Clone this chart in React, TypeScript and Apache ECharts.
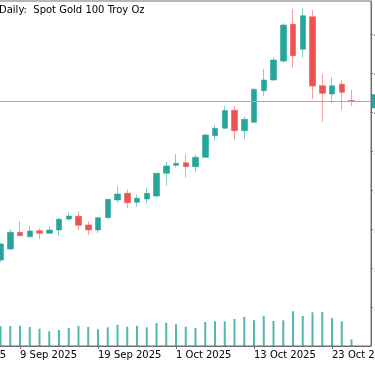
import React, { useEffect, useRef } from 'react';
import * as echarts from 'echarts';

// Category labels (trading days). The first six fall left of the visible area.
const dates = [
  '28 Aug 2025', '29 Aug 2025', '1 Sep 2025', '2 Sep 2025', '3 Sep 2025', '4 Sep 2025',
  '5 Sep 2025', '8 Sep 2025', '9 Sep 2025', '10 Sep 2025', '11 Sep 2025', '12 Sep 2025',
  '15 Sep 2025', '16 Sep 2025', '17 Sep 2025', '18 Sep 2025', '19 Sep 2025', '22 Sep 2025',
  '23 Sep 2025', '24 Sep 2025', '25 Sep 2025', '26 Sep 2025', '29 Sep 2025', '30 Sep 2025',
  '1 Oct 2025', '2 Oct 2025', '3 Oct 2025', '6 Oct 2025', '7 Oct 2025', '8 Oct 2025',
  '9 Oct 2025', '10 Oct 2025', '13 Oct 2025', '14 Oct 2025', '15 Oct 2025', '16 Oct 2025',
  '17 Oct 2025', '20 Oct 2025', '21 Oct 2025', '22 Oct 2025', '23 Oct 2025', '24 Oct 2025',
  '27 Oct 2025', '28 Oct 2025', '29 Oct 2025',
];
// index in `dates` of the first day that has data (5 Sep 2025)
const firstDataIndex = 6;

const opens = [
  3547.7, 3584.3, 3640.0, 3625.3, 3645.3, 3636.7, 3647.7, 3684.3, 3693.3, 3664.3, 3647.7, 3688.7,
  3747.7, 3770.0, 3740.0, 3751.0, 3761.0, 3836.7,
  3863.3, 3872.0, 3858.7, 3890.0, 3962.0, 3986.7, 4046.7, 3978.7, 4006.7, 4112.0, 4147.7, 4211.0,
  4333.3, 4250.0, 4358.7, 4128.7, 4101.0, 4133.3, 4079.3,
];
const closes = [
  3601.0, 3640.0, 3628.7, 3644.3, 3636.7, 3647.7, 3683.3, 3694.3, 3663.3, 3647.7, 3688.7, 3750.0,
  3767.7, 3738.7, 3753.3, 3770.0, 3836.7, 3861.0,
  3870.0, 3858.7, 3890.0, 3964.3, 3986.7, 4046.0, 3978.7, 4016.7, 4116.7, 4147.7, 4214.3, 4331.0,
  4228.7, 4362.0, 4127.7, 4103.3, 4128.7, 4106.7, 4076.7,
];
const highs = [
  3604.3, 3650.0, 3677.7, 3661.0, 3653.3, 3661.0, 3688.7, 3707.7, 3711.0, 3676.7, 3692.0, 3751.0,
  3794.3, 3783.3, 3765.3, 3787.7, 3838.7, 3875.3,
  3901.0, 3901.0, 3897.7, 3970.0, 3997.7, 4061.0, 4061.0, 4025.3, 4120.0, 4184.3, 4222.0, 4336.7,
  4384.3, 4386.7, 4381.0, 4167.7, 4156.7, 4147.7, 4114.3,
];
const lows = [
  3541.0, 3581.0, 3627.7, 3623.3, 3616.7, 3634.3, 3628.7, 3678.7, 3647.7, 3631.0, 3636.7, 3684.3,
  3738.7, 3720.0, 3725.3, 3736.7, 3756.7, 3795.3,
  3856.7, 3822.0, 3840.0, 3887.7, 3945.3, 3984.3, 3947.7, 3950.0, 4005.3, 4094.3, 4144.3, 4205.3,
  4188.7, 4222.0, 4083.3, 4007.7, 4070.0, 4047.7, 4061.0,
];
const volumes = [
  100000, 100000, 101500, 95000, 86500, 73500, 80000, 90000, 100000, 95000, 83500, 93500,
  106500, 96500, 101500, 93500, 115000, 116500,
  108500, 96500, 90000, 120000, 123500, 123500, 135000, 145000, 128500, 150000, 125000, 128500,
  173500, 150000, 168500, 170000, 138500, 123500, 33500,
];

// price scale (right axis)
const priceMin = 3261;
const priceMax = 4411;
const priceStep = 130;
const volumeMax = 1725000;

const titleText = 'Daily:  Spot Gold 100 Troy Oz';

const UP = '#26a69a';
const DOWN = '#ef5350';
const GREY = '#6e6e6e';
const FONT = 'DejaVu Sans';

export default function App() {
  const ref = useRef<HTMLDivElement>(null);

  useEffect(() => {
    if (!ref.current) return;
    const chart = echarts.init(ref.current, null, { renderer: 'svg' });

    const candleData = dates.map((_, i) => {
      const k = i - firstDataIndex;
      return k >= 0 && k < opens.length
        ? [opens[k], closes[k], lows[k], highs[k]]
        : ['-', '-', '-', '-'];
    });
    const volumeData = dates.map((_, i) => {
      const k = i - firstDataIndex;
      return k >= 0 && k < volumes.length ? volumes[k] : '-';
    });
    const lastClose = closes[closes.length - 1];

    chart.setOption({
      animation: false,
      textStyle: { fontFamily: FONT },
      grid: {
        left: -58,
        right: 4,
        top: 1,
        bottom: 20,
        show: true,
        borderColor: GREY,
        borderWidth: 1,
        containLabel: false,
        outerBoundsMode: 'none',
      },
      xAxis: {
        type: 'category',
        data: dates,
        boundaryGap: false,
        axisLine: { show: true, lineStyle: { color: GREY, width: 1 } },
        axisTick: { show: true, interval: 7, length: 3, lineStyle: { color: GREY } },
        axisLabel: {
          interval: 7,
          align: 'left',
          margin: 3,
          fontSize: 10,
          color: '#000',
          fontFamily: FONT,
        },
        splitLine: { show: false },
      },
      yAxis: [
        {
          type: 'value',
          position: 'right',
          min: priceMin,
          max: priceMax,
          interval: priceStep,
          axisLine: { show: true, lineStyle: { color: GREY, width: 1 } },
          axisTick: { show: true, length: 2, lineStyle: { color: GREY } },
          axisLabel: {
            margin: 3,
            fontSize: 10,
            color: '#000',
            fontFamily: FONT,
            showMaxLabel: false,
            showMinLabel: false,
            formatter: (v: number) => v.toFixed(2),
          },
          splitLine: { show: false },
        },
        {
          type: 'value',
          min: 0,
          max: volumeMax,
          show: false,
          splitLine: { show: false },
        },
      ],
      series: [
        {
          type: 'bar',
          yAxisIndex: 1,
          data: volumeData,
          barWidth: 2,
          silent: true,
          itemStyle: { color: 'rgba(38,166,154,0.8)' },
        },
        {
          type: 'candlestick',
          data: candleData,
          barWidth: 6,
          itemStyle: {
            color: UP,
            color0: DOWN,
            borderColor: 'rgba(38,166,154,0.55)',
            borderColor0: 'rgba(239,83,80,0.55)',
            borderWidth: 1,
          },
          markLine: {
            silent: true,
            symbol: ['none', 'none'],
            data: [{ yAxis: lastClose }],
            itemStyle: { color: '#74c2b9' },
            lineStyle: { color: '#74c2b9', width: 1, type: 'solid', opacity: 1 },
            label: {
              show: true,
              position: 'end',
              distance: 1,
              backgroundColor: UP,
              color: '#fff',
              fontSize: 10,
              fontFamily: FONT,
              padding: [2, 3],
              formatter: (p: any) => Number(p.value).toFixed(2),
            },
          },
        },
      ],
      graphic: [
        {
          type: 'text',
          x: -1,
          y: 4,
          silent: true,
          style: {
            text: titleText,
            fontSize: 10,
            fontFamily: FONT,
            fill: '#000',
          },
        },
      ],
    });

    return () => chart.dispose();
  }, []);

  return (
    <div
      ref={ref}
      style={{ position: 'fixed', left: 0, top: 0, width: 375, height: 366 }}
    />
  );
}
